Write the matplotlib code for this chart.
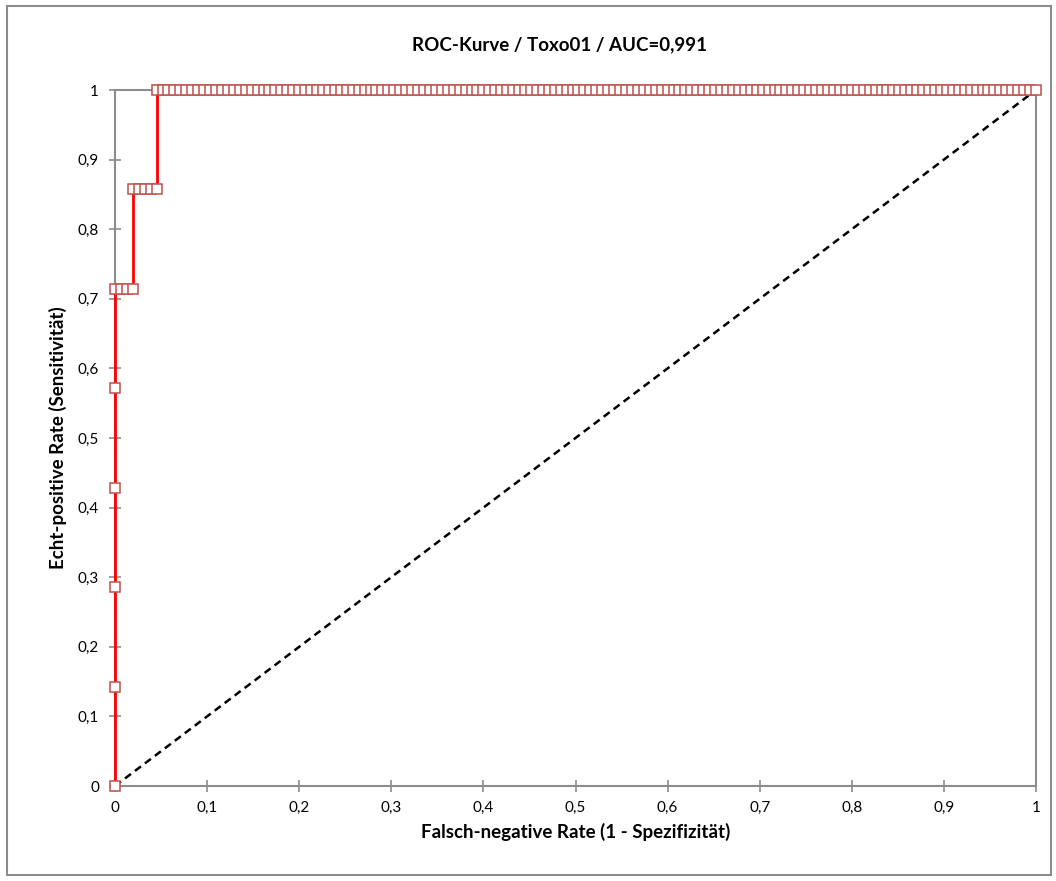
#!/usr/bin/env python3
"""ROC curve for the Toxo01 classifier, with comma decimal tick labels."""
import matplotlib
matplotlib.use("Agg")
import matplotlib.pyplot as plt
import numpy as np
from matplotlib.patches import Rectangle
from matplotlib.ticker import FuncFormatter

N_POS = 7
N_NEG = 155

# cumulative counts along the sorted score list: (false positives, true positives)
fp_counts = np.concatenate([
    [0, 0, 0, 0, 0, 0],
    [1, 2, 3],
    [3, 4, 5, 6, 7],
    np.arange(7, N_NEG + 1),
])
tp_counts = np.concatenate([
    [0, 1, 2, 3, 4, 5],
    [5, 5, 5],
    [6, 6, 6, 6, 6],
    np.full(N_NEG - 6, 7),
])

fpr = fp_counts / N_NEG
tpr = tp_counts / N_POS

title = "ROC-Kurve / Toxo01 / AUC=0,991"
x_label = "Falsch-negative Rate (1 - Spezifizität)"
y_label = "Echt-positive Rate (Sensitivität)"
ticks = np.round(np.arange(0, 1.01, 0.1), 1)

plt.rcParams["font.family"] = ["Lato", "DejaVu Sans"]

fig = plt.figure(figsize=(10.56, 8.81), dpi=100)
ax = fig.add_axes([115 / 1056, 1 - 786 / 881, 921 / 1056, 696 / 881])

# chart border
fig.patches.append(Rectangle((7 / 1056, 6 / 881), 1044 / 1056, 869 / 881,
                             transform=fig.transFigure, fill=False,
                             edgecolor="#8c8c8c", lw=1.5))

ax.plot([0, 1], [0, 1], ls=(0, (3, 2)), color="black", lw=1.8, zorder=2)
ax.plot(fpr, tpr, color="#ff0000", lw=2, marker="s", markersize=6.5,
        markerfacecolor="white", markeredgecolor="#c0504d",
        markeredgewidth=1.1, zorder=3, clip_on=False)

ax.set_xlim(0, 1)
ax.set_ylim(0, 1)
ax.set_xticks(ticks)
ax.set_yticks(ticks)

fmt = FuncFormatter(lambda v, _: f"{v:g}".replace(".", ","))
ax.xaxis.set_major_formatter(fmt)
ax.yaxis.set_major_formatter(fmt)

for side in ax.spines.values():
    side.set_color("#8c8c8c")
    side.set_linewidth(1.5)
ax.tick_params(direction="inout", length=9, width=1.2, color="#8c8c8c",
               labelsize=11, pad=7)
ax.tick_params(axis="x", pad=6)

fig.text(560 / 1056, 1 - 45 / 881, title, fontsize=13.5, fontweight="bold",
         ha="center", va="center")
ax.set_xlabel(x_label, fontsize=13.5, fontweight="bold", labelpad=6)
ax.set_ylabel(y_label, fontsize=13.5, fontweight="bold", labelpad=8)

fig.savefig("out.png", dpi=100)
